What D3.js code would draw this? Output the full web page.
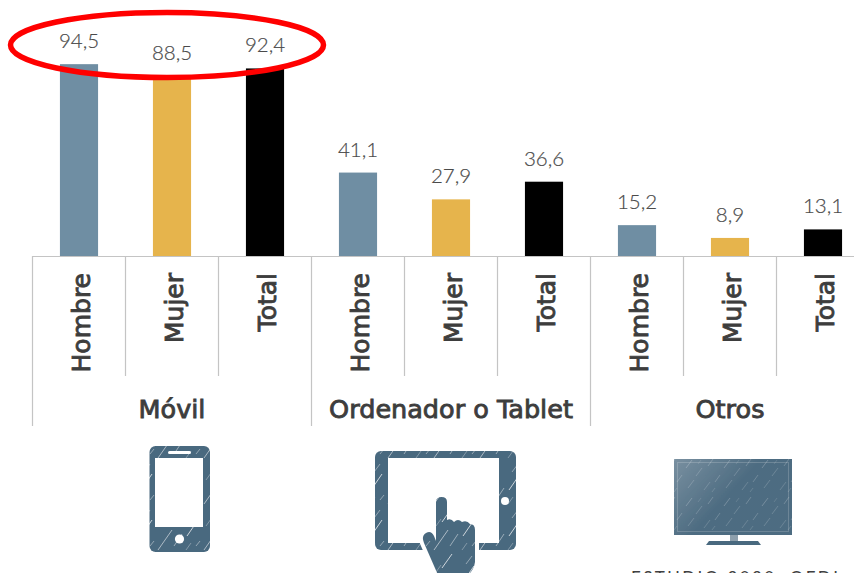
<!DOCTYPE html>
<html>
<head>
<meta charset="utf-8">
<script src="https://cdn.jsdelivr.net/npm/d3@7"></script>
<style>
  html, body { margin: 0; padding: 0; background: #fff; overflow: hidden; }
  svg { display: block; font-family: Lato, "Open Sans", sans-serif; }
</style>
</head>
<body>
<div id="chart"></div>
<script>
//chart data
var groups = ["Móvil", "Ordenador o Tablet", "Otros"];
var genders = ["Hombre", "Mujer", "Total"];
var values = [94.5, 88.5, 92.4, 41.1, 27.9, 36.6, 15.2, 8.9, 13.1];
var colors = ["#6f8ea3", "#e6b44c", "#000000"];

var width = 854, height = 573;
var iconColor = "#4a697f";
var lineColor = "#c4c4c4";
var labelFont = '"DejaVu Sans", sans-serif';

var svg = d3.select("#chart").append("svg")
  .attr("width", width)
  .attr("height", height);

var defs = svg.append("defs");

//scratchy look of the icons, strokes are x1,y1,x2,y2,opacity
function addHatch(id, size, strokes, strokeWidth) {
  var p = defs.append("pattern")
    .attr("id", id)
    .attr("patternUnits", "userSpaceOnUse")
    .attr("width", size)
    .attr("height", size);
  p.append("rect").attr("width", size).attr("height", size).attr("fill", iconColor);
  strokes.forEach(function(s) {
    p.append("line")
      .attr("x1", s[0]).attr("y1", s[1])
      .attr("x2", s[2]).attr("y2", s[3])
      .attr("stroke", "#ffffff")
      .attr("stroke-width", strokeWidth)
      .attr("stroke-opacity", s[4]);
  });
}

addHatch("hatch", 46, [
  [3, 30, 14, 14, 0.8], [20, 44, 34, 24, 0.6], [28, 16, 38, 2, 0.8],
  [6, 12, 12, 4, 0.45], [36, 40, 44, 28, 0.5], [12, 40, 16, 35, 0.45],
  [22, 20, 27, 13, 0.35], [2, 44, 7, 37, 0.35]
], 0.9);

addHatch("hatchFine", 38, [
  [2, 12, 8, 4, 0.28], [12, 20, 18, 12, 0.22], [24, 10, 29, 3, 0.25],
  [4, 32, 10, 24, 0.22], [20, 34, 26, 26, 0.2], [31, 26, 36, 19, 0.24],
  [14, 8, 17, 4, 0.16], [28, 36, 31, 32, 0.18]
], 0.8);

var tvFade = defs.append("linearGradient")
  .attr("id", "tvFade")
  .attr("x1", 0).attr("y1", 0)
  .attr("x2", 1).attr("y2", 0.6);
tvFade.append("stop").attr("offset", 0).attr("stop-color", "#ffffff").attr("stop-opacity", 0.26);
tvFade.append("stop").attr("offset", 0.55).attr("stop-color", "#ffffff").attr("stop-opacity", 0.02);

defs.append("filter").attr("id", "soft")
  .append("feGaussianBlur").attr("stdDeviation", 0.5);

//scales, one band per bar
var x = d3.scaleBand()
  .domain(d3.range(values.length))
  .range([32.5, 869.5])
  .paddingInner(0.59)
  .paddingOuter(0.295);

var y = d3.scaleLinear()
  .domain([0, 100])
  .range([256, 53]);

var step = x.step();
var axisLeft = 32.5;

//bars
svg.selectAll(".bar")
  .data(values)
  .enter().append("rect")
  .attr("class", "bar")
  .attr("x", function(d, i) { return x(i); })
  .attr("y", function(d) { return y(d); })
  .attr("width", x.bandwidth())
  .attr("height", function(d) { return y(0) - y(d); })
  .attr("fill", function(d, i) { return colors[i % 3]; });

//value labels
svg.selectAll(".value")
  .data(values)
  .enter().append("text")
  .attr("class", "value")
  .attr("x", function(d, i) { return x(i) + x.bandwidth() / 2; })
  .attr("y", function(d) { return y(d) - 16; })
  .attr("text-anchor", "middle")
  .attr("font-size", 20.5)
  .attr("font-weight", 300)
  .attr("fill", "#4a4a4a")
  .attr("stroke", "#4a4a4a")
  .attr("stroke-width", 0.2)
  .text(function(d) { return String(d).replace(".", ","); });

//axis lines
svg.append("line")
  .attr("x1", axisLeft).attr("x2", width)
  .attr("y1", 256.5).attr("y2", 256.5)
  .attr("stroke", lineColor).attr("stroke-width", 1.2);

svg.selectAll(".tick-line")
  .data(d3.range(values.length + 1))
  .enter().append("line")
  .attr("class", "tick-line")
  .attr("x1", function(d) { return axisLeft + d * step; })
  .attr("x2", function(d) { return axisLeft + d * step; })
  .attr("y1", 256)
  .attr("y2", function(d) { return d % 3 == 0 ? 426 : 376; })   //group separators run longer
  .attr("stroke", lineColor)
  .attr("stroke-width", 1.2);

//rotated bar names
svg.selectAll(".gender")
  .data(values)
  .enter().append("text")
  .attr("class", "gender")
  .attr("transform", function(d, i) {
    return "translate(" + (x(i) + x.bandwidth() / 2 + 10.5) + ",273) rotate(-90)";
  })
  .attr("text-anchor", "end")
  .attr("font-family", labelFont)
  .attr("font-size", 25)
  .attr("fill", "#3d3d3d")
  .attr("stroke", "#3d3d3d")
  .attr("stroke-width", 0.9)
  .text(function(d, i) { return genders[i % 3]; });

//group names
svg.selectAll(".group")
  .data(groups)
  .enter().append("text")
  .attr("class", "group")
  .attr("x", function(d, i) { return axisLeft + (i * 3 + 1.5) * step; })
  .attr("y", 418)
  .attr("text-anchor", "middle")
  .attr("font-family", labelFont)
  .attr("font-size", 25.5)
  .attr("fill", "#3d3d3d")
  .attr("stroke", "#3d3d3d")
  .attr("stroke-width", 0.9)
  .text(function(d) { return d; });

//icons
var icons = svg.append("g").attr("filter", "url(#soft)");

//phone
icons.append("rect")
  .attr("x", 149.5).attr("y", 446).attr("width", 60.5).attr("height", 106).attr("rx", 6)
  .attr("fill", "url(#hatch)");
icons.append("rect")
  .attr("x", 155).attr("y", 458).attr("width", 48).attr("height", 69)
  .attr("fill", "#ffffff");
icons.append("rect")
  .attr("x", 168).attr("y", 451).attr("width", 23).attr("height", 3).attr("rx", 1.5)
  .attr("fill", "#ffffff");
icons.append("circle")
  .attr("cx", 179.5).attr("cy", 539).attr("r", 4.6)
  .attr("fill", "#ffffff");

//tablet
icons.append("rect")
  .attr("x", 375).attr("y", 451).attr("width", 141).attr("height", 99).attr("rx", 6)
  .attr("fill", "url(#hatch)");
icons.append("rect")
  .attr("x", 388).attr("y", 458).attr("width", 111).attr("height", 85)
  .attr("fill", "#ffffff");
icons.append("circle")
  .attr("cx", 505).attr("cy", 501).attr("r", 4)
  .attr("fill", "#ffffff");

//hand on the tablet, white halo first so it cuts the frame
var handPath = "M436 502 Q436 497 441.5 497 Q447 497 447 502 L447 520 Q451 518 454 522 Q458 518 462 522 Q467 520 470 524 Q475 524 475 530 L475 562 Q474 570 468 575 L438 575 L424 543 Q421 536 426 533 Q431 530 434 536 L436 541 Z";
icons.append("path")
  .attr("d", handPath)
  .attr("fill", "#ffffff")
  .attr("stroke", "#ffffff")
  .attr("stroke-width", 8);
icons.append("path")
  .attr("d", handPath)
  .attr("fill", "url(#hatch)");

//tv
icons.append("rect")
  .attr("x", 674).attr("y", 459).attr("width", 118).attr("height", 76)
  .attr("fill", "url(#hatchFine)");
icons.append("rect")
  .attr("x", 674).attr("y", 459).attr("width", 118).attr("height", 76)
  .attr("fill", "url(#tvFade)");
icons.append("rect")
  .attr("x", 677.5).attr("y", 462.5).attr("width", 111).attr("height", 69)
  .attr("fill", "none")
  .attr("stroke", "#ffffff")
  .attr("stroke-opacity", 0.18);
icons.append("rect")
  .attr("x", 730).attr("y", 535).attr("width", 8).attr("height", 7)
  .attr("fill", "#8ea0ad");
icons.append("path")
  .attr("d", "M706 545 L709 541 L758 541 L761 545 Z")
  .attr("fill", iconColor);

//source line, cut by the bottom edge
svg.append("text")
  .attr("x", 631)
  .attr("y", 583.5)
  .attr("font-size", 17)
  .attr("letter-spacing", 2.4)
  .attr("fill", "#404040")
  .text("ESTUDIO 2020. OEDI");

//red highlight around the first group
svg.append("ellipse")
  .attr("cx", 167)
  .attr("cy", 45)
  .attr("rx", 156.5)
  .attr("ry", 32.5)
  .attr("fill", "none")
  .attr("stroke", "#ff0000")
  .attr("stroke-width", 5.5);
</script>
</body>
</html>
